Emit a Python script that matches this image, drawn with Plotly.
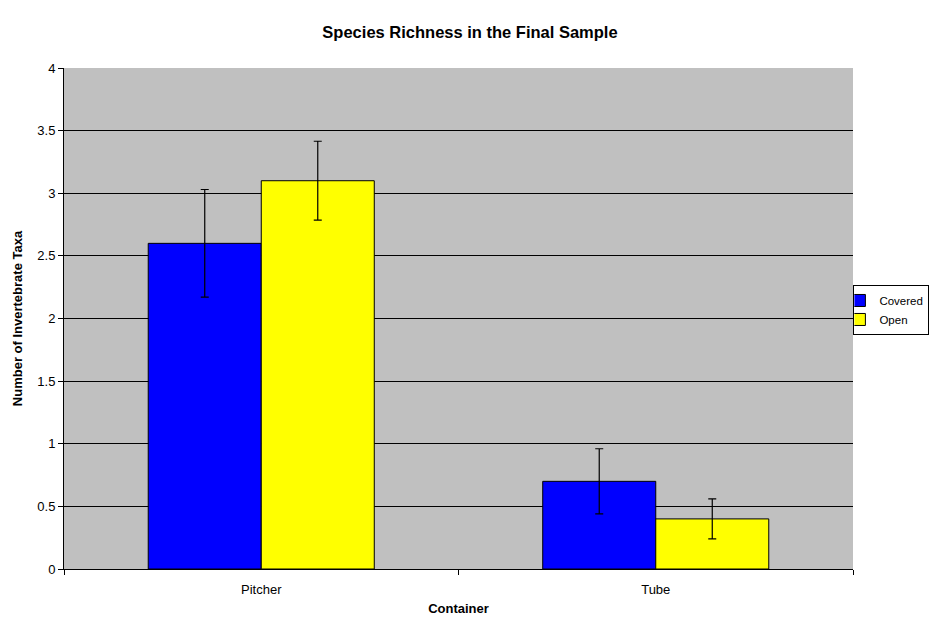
import plotly.graph_objects as go

categories = ["Pitcher", "Tube"]
covered = [2.6, 0.7]
covered_err = [0.43, 0.26]
open_vals = [3.1, 0.4]
open_err = [0.315, 0.16]

fig = go.Figure()
fig.add_trace(go.Bar(
    name="Covered", x=categories, y=covered,
    marker=dict(color="#0000FF", line=dict(color="black", width=1)),
    error_y=dict(type="data", array=covered_err, visible=True, color="black", thickness=1.2, width=4),
))
fig.add_trace(go.Bar(
    name="Open", x=categories, y=open_vals,
    marker=dict(color="#FFFF00", line=dict(color="black", width=1)),
    error_y=dict(type="data", array=open_err, visible=True, color="black", thickness=1.2, width=4),
))

W, H = 923, 608  # page body adds an 8px margin on every side
fig.update_layout(
    width=W, height=H,
    barmode="group", bargap=0.427, bargroupgap=0,
    paper_bgcolor="white", plot_bgcolor="#C0C0C0",
    font=dict(family="Liberation Sans, Arial, sans-serif", size=13, color="black"),
    margin=dict(l=56, r=78, t=60, b=47, autoexpand=False),
    title=dict(text="<b>Species Richness in the Final Sample</b>", x=462 / W, xanchor="center",
               y=1 - 24 / H, yanchor="middle", font=dict(size=16.5)),
    showlegend=True,
    legend=dict(x=1.0005, y=0.517, xanchor="left", yanchor="middle",
                bordercolor="black", borderwidth=1, bgcolor="white",
                font=dict(size=11.5), tracegroupgap=0, itemwidth=30, indentation=-15),
    xaxis=dict(
        title=dict(text="<b>Container</b>", font=dict(size=13), standoff=8),
        showline=True, linecolor="black", linewidth=1,
        ticks="outside", tickson="boundaries", ticklen=5, tickcolor="black",
        ticklabelstandoff=8,
        showgrid=False, automargin=False,
    ),
    yaxis=dict(
        title=dict(text="<b>Number of Invertebrate Taxa</b>", font=dict(size=13), standoff=11),
        range=[0, 4], dtick=0.5, tickformat="~g",
        showline=True, linecolor="black", linewidth=1,
        ticks="outside", ticklen=5, tickcolor="black",
        showgrid=True, gridcolor="black", gridwidth=1,
        zeroline=False, automargin=False,
    ),
)

fig.write_html("out.html")
